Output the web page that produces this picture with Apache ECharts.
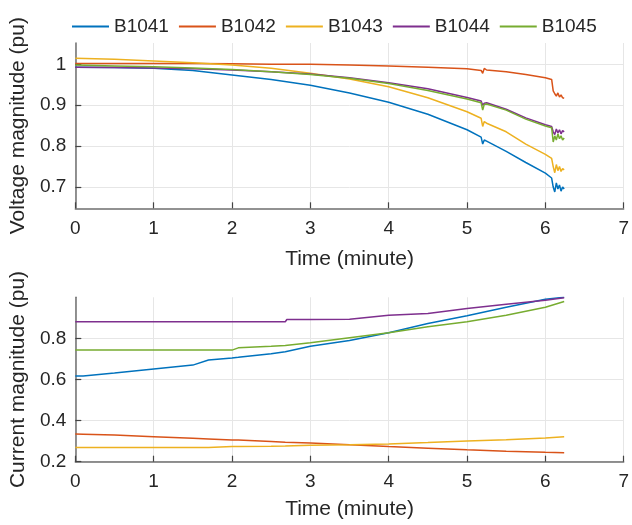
<!DOCTYPE html>
<html>
<head>
<meta charset="utf-8">
<script src="https://cdn.jsdelivr.net/npm/echarts@6/dist/echarts.min.js"></script>
<style>html,body{margin:0;padding:0;background:#fff;}#c{width:632px;height:525px;}</style>
</head>
<body>
<div id="c"></div>
<script>
var seriesNames = ['B1041', 'B1042', 'B1043', 'B1044', 'B1045'];
var colors = ['#0072BD', '#D95319', '#EDB120', '#7E2F8E', '#77AC30'];
var xTicks = [0, 1, 2, 3, 4, 5, 6, 7];
var voltTicks = [0.7, 0.8, 0.9, 1];
var currTicks = [0.2, 0.4, 0.6, 0.8];

// Voltage (top)
var vTime = [0, 0.5, 1, 1.5, 2, 2.5, 3, 3.5, 4, 4.5, 5, 5.18, 5.2, 5.22, 5.25, 5.5, 5.75, 6, 6.08, 6.1, 6.12, 6.14, 6.16, 6.18, 6.2, 6.22, 6.24];
var vB1041 = [0.993, 0.992, 0.99, 0.985, 0.974, 0.963, 0.949, 0.93, 0.907, 0.878, 0.84, 0.822, 0.805, 0.815, 0.812, 0.787, 0.76, 0.734, 0.722, 0.70, 0.688, 0.71, 0.695, 0.705, 0.69, 0.70, 0.695];
var vB1042 = [1.002, 1.002, 1.002, 1.002, 1.001, 1.0, 1.0, 0.998, 0.996, 0.993, 0.989, 0.985, 0.978, 0.99, 0.986, 0.982, 0.975, 0.967, 0.963, 0.935, 0.928, 0.922, 0.93, 0.92, 0.925, 0.918, 0.917];
var vB1043 = [1.015, 1.012, 1.008, 1.004, 0.998, 0.99, 0.978, 0.964, 0.945, 0.918, 0.884, 0.868, 0.848, 0.86, 0.856, 0.835, 0.805, 0.78, 0.77, 0.75, 0.735, 0.755, 0.74, 0.75, 0.738, 0.745, 0.742];
var vB1044 = [0.993, 0.992, 0.991, 0.989, 0.986, 0.982, 0.976, 0.967, 0.955, 0.94, 0.919, 0.91, 0.9, 0.905, 0.906, 0.89, 0.869, 0.852, 0.848, 0.835, 0.828, 0.842, 0.832, 0.84, 0.83, 0.838, 0.835];
var vB1045 = [0.998, 0.996, 0.994, 0.991, 0.987, 0.982, 0.975, 0.966, 0.953, 0.936, 0.915, 0.906, 0.888, 0.902, 0.903, 0.888, 0.866, 0.849, 0.845, 0.81, 0.825, 0.815, 0.83, 0.818, 0.825, 0.815, 0.82];

// Current (bottom)
var cTime = [0, 0.1, 0.5, 1, 1.5, 1.7, 2, 2.08, 2.5, 2.68, 2.7, 3, 3.5, 4, 4.5, 5, 5.5, 6, 6.24];
var cB1041 = [0.617, 0.617, 0.632, 0.651, 0.670, 0.695, 0.705, 0.708, 0.725, 0.735, 0.736, 0.762, 0.79, 0.828, 0.872, 0.91, 0.952, 0.99, 1.0];
var cB1042 = [0.335, 0.334, 0.33, 0.322, 0.314, 0.311, 0.306, 0.305, 0.298, 0.295, 0.295, 0.291, 0.283, 0.274, 0.266, 0.258, 0.251, 0.246, 0.244];
var cB1043 = [0.269, 0.269, 0.269, 0.269, 0.269, 0.269, 0.274, 0.274, 0.275, 0.276, 0.276, 0.28, 0.282, 0.286, 0.293, 0.301, 0.307, 0.315, 0.322];
var cB1044 = [0.881, 0.881, 0.881, 0.881, 0.881, 0.881, 0.881, 0.881, 0.881, 0.881, 0.892, 0.892, 0.893, 0.913, 0.921, 0.945, 0.966, 0.986, 0.998];
var cB1045 = [0.743, 0.743, 0.743, 0.743, 0.743, 0.743, 0.743, 0.754, 0.762, 0.766, 0.766, 0.779, 0.803, 0.827, 0.857, 0.881, 0.913, 0.952, 0.98];

var vData = [vB1041, vB1042, vB1043, vB1044, vB1045];
var cData = [cB1041, cB1042, cB1043, cB1044, cB1045];

function zip(t, v) { return t.map(function (x, i) { return [x, v[i]]; }); }

var font = 'Liberation Sans, Arial, Helvetica, sans-serif';
var axisCol = '#6f6f6f';
var txtCol = '#262626';

function xAxis(gi, gap) {
  return {
    type: 'value', gridIndex: gi, min: 0, max: 7, interval: 1,
    name: 'Time (minute)', nameLocation: 'middle', nameGap: gap,
    nameTextStyle: { fontFamily: font, fontSize: 21, color: txtCol },
    axisLine: { show: true, onZero: false, lineStyle: { color: axisCol, width: 1.5 } },
    axisTick: { show: true, inside: true, length: 6, lineStyle: { color: '#444', width: 1.2 } },
    axisLabel: { fontFamily: font, fontSize: 19, color: txtCol, margin: 11 },
    splitLine: { show: true, lineStyle: { color: '#e6e6e6', width: 1 } }
  };
}
function yAxis(gi, name, min, max, ticks) {
  return {
    type: 'value', gridIndex: gi, min: min, max: max,
    name: name, nameLocation: 'middle', nameGap: 44,
    nameTextStyle: { fontFamily: font, fontSize: 21, color: txtCol },
    axisLine: { show: true, onZero: false, lineStyle: { color: axisCol, width: 1.5 } },
    axisTick: { show: true, inside: true, length: 6, customValues: ticks, lineStyle: { color: '#444', width: 1.2 } },
    axisLabel: { fontFamily: font, fontSize: 19, color: txtCol, margin: 9, customValues: ticks,
      formatter: function (v) { return String(Math.round(v * 10) / 10); } },
    splitLine: { show: true, lineStyle: { color: '#e6e6e6', width: 1 } }
  };
}

var series = [];
seriesNames.forEach(function (n, i) {
  series.push({ name: n, type: 'line', xAxisIndex: 0, yAxisIndex: 0, data: zip(vTime, vData[i]),
    showSymbol: false, symbol: 'none', lineStyle: { width: 1.5, color: colors[i] }, itemStyle: { color: colors[i] }, animation: false, z: 2 + i });
  series.push({ name: n, type: 'line', xAxisIndex: 1, yAxisIndex: 1, data: zip(cTime, cData[i]),
    showSymbol: false, symbol: 'none', lineStyle: { width: 1.5, color: colors[i] }, itemStyle: { color: colors[i] }, animation: false, z: 2 + i });
});

var chart = echarts.init(document.getElementById('c'), null, { renderer: 'canvas' });
chart.setOption({
  animation: false,
  backgroundColor: '#fff',
  color: colors,
  legend: {
    data: seriesNames, left: 67, top: 12, itemWidth: 37, itemHeight: 2, itemGap: 10,
    icon: 'rect',
    textStyle: { fontFamily: font, fontSize: 19, color: txtCol }
  },
  grid: [
    { left: 72.7, right: 6.3, top: 43, height: 165.3, containLabel: false },
    { left: 72.7, right: 6.3, top: 297.3, height: 164.4, containLabel: false }
  ],
  xAxis: [xAxis(0, 40), xAxis(1, 37)],
  yAxis: [
    yAxis(0, 'Voltage magnitude (pu)', 0.648, 1.052, voltTicks),
    yAxis(1, 'Current magnitude (pu)', 0.2, 1.0, currTicks)
  ],
  series: series
});
</script>
</body>
</html>
